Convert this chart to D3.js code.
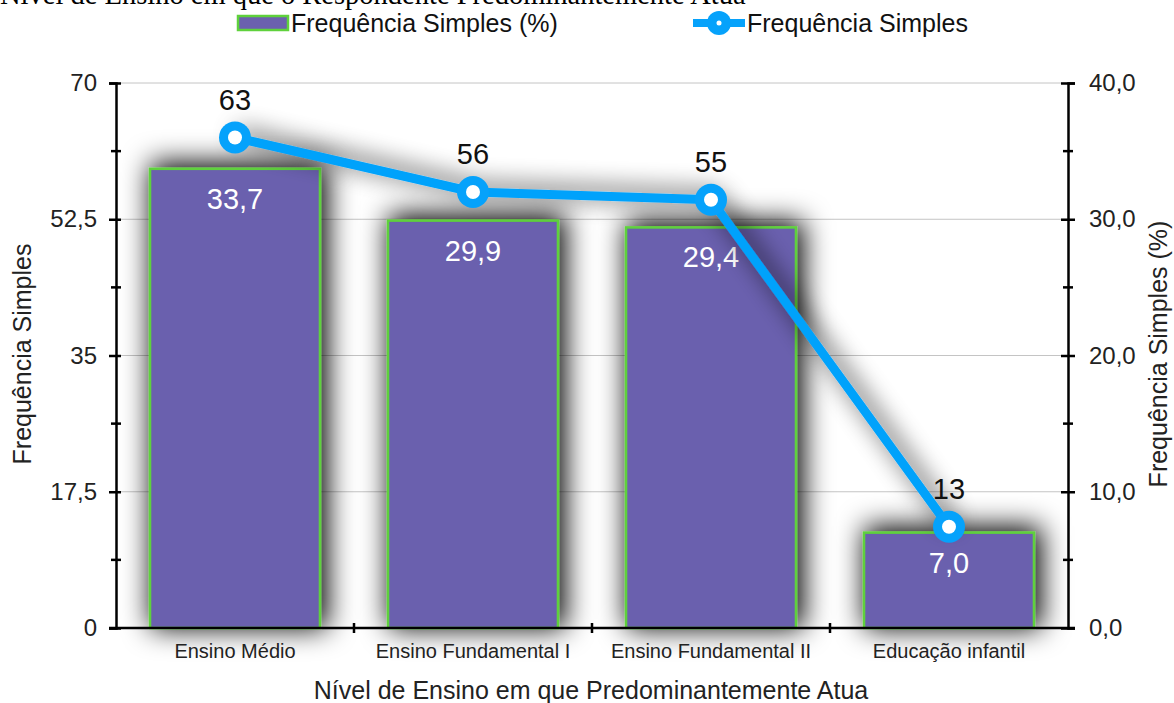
<!DOCTYPE html>
<html>
<head>
<meta charset="utf-8">
<script src="https://cdn.jsdelivr.net/npm/d3@7"></script>
<style>
  html, body { margin: 0; padding: 0; background: #fff; }
  svg { display: block; font-family: "Liberation Sans", Arial, sans-serif; }
</style>
</head>
<body>
<svg id="chart" width="1174" height="703"></svg>
<script>
// Teaching level categories and their frequencies
const categories = ["Ensino Médio", "Ensino Fundamental I", "Ensino Fundamental II", "Educação infantil"];
const percentValues = [33.7, 29.9, 29.4, 7.0];   // Frequência Simples (%) – bars, right axis
const countValues = [63, 56, 55, 13];            // Frequência Simples – line, left axis
const leftTicks = [0, 17.5, 35, 52.5, 70];
const rightTicks = [0, 10, 20, 30, 40];

const svg = d3.select("#chart");
const m = { left: 116, right: 1068, top: 83, bottom: 628 };

const x = d3.scaleBand().domain(categories).range([m.left, m.right])
  .paddingInner(0.286).paddingOuter(0.143);
const xStep = d3.scaleBand().domain(categories).range([m.left, m.right]).padding(0);
const yLeft = d3.scaleLinear().domain([0, 70]).range([m.bottom, m.top]);
const yRight = d3.scaleLinear().domain([0, 40]).range([m.bottom, m.top]);

const comma = v => String(v).replace(".", ",");
const fmt1 = v => v.toFixed(1).replace(".", ",");

const blue = "#06a2fb";

// Soft dark shadow: dilated, blurred alpha placed under the shape
const defs = svg.append("defs");
function shadowFilter(id, dilate, blur, dx, dy, opacity) {
  const f = defs.append("filter").attr("id", id)
    .attr("filterUnits", "userSpaceOnUse")
    .attr("x", 0).attr("y", 0).attr("width", 1174).attr("height", 703);
  f.append("feMorphology").attr("in", "SourceAlpha").attr("operator", "dilate")
    .attr("radius", dilate).attr("result", "d");
  f.append("feGaussianBlur").attr("in", "d").attr("stdDeviation", blur).attr("result", "b");
  f.append("feOffset").attr("in", "b").attr("dx", dx).attr("dy", dy).attr("result", "o");
  f.append("feComponentTransfer").attr("in", "o").attr("result", "s")
    .append("feFuncA").attr("type", "linear").attr("slope", opacity);
  const mg = f.append("feMerge");
  mg.append("feMergeNode").attr("in", "s");
  mg.append("feMergeNode").attr("in", "SourceGraphic");
}
shadowFilter("shadow", 2, 14, 4, -3, 1);
shadowFilter("lshadow", 1, 12, 3, -3, 0.7);

// Title (partly above the top edge)
svg.append("text").attr("x", 0).attr("y", 4)
  .style("font-family", "'Liberation Serif', 'Times New Roman', serif")
  .style("font-size", "28.5px").attr("fill", "#000")
  .text("Nível de Ensino em que o Respondente Predominantemente Atua");

// Gridlines
svg.append("g").selectAll("line").data(leftTicks.filter(d => d > 0)).join("line")
  .attr("x1", m.left).attr("x2", m.right)
  .attr("y1", d => yLeft(d)).attr("y2", d => yLeft(d))
  .attr("stroke", "#c4c4c4").attr("stroke-width", 1);

// Bars
svg.append("g").selectAll("rect").data(categories).join("rect")
  .attr("x", d => x(d)).attr("width", x.bandwidth())
  .attr("y", (d, i) => yRight(percentValues[i]))
  .attr("height", (d, i) => m.bottom - yRight(percentValues[i]))
  .attr("fill", "#6b60ae").attr("stroke", "#5fd13c").attr("stroke-width", 2.5)
  .attr("filter", "url(#shadow)");

// Bar labels
svg.append("g").selectAll("text").data(categories).join("text")
  .attr("x", d => x(d) + x.bandwidth() / 2)
  .attr("y", (d, i) => yRight(percentValues[i]) + 40)
  .attr("text-anchor", "middle").attr("fill", "#fff")
  .style("font-size", "29px")
  .text((d, i) => fmt1(percentValues[i]));

// Line series
const cx = d => x(d) + x.bandwidth() / 2;
const line = d3.line().x((d, i) => cx(categories[i])).y(d => yLeft(d));
svg.append("path").datum(countValues).attr("d", line)
  .attr("fill", "none").attr("stroke", blue).attr("stroke-width", 9)
  .attr("stroke-linejoin", "round").attr("filter", "url(#lshadow)");
const pts = svg.append("g").selectAll("g").data(countValues).join("g")
  .attr("transform", (d, i) => `translate(${cx(categories[i])},${yLeft(d)})`);
pts.append("circle").attr("r", 16).attr("fill", blue);
pts.append("circle").attr("r", 7).attr("fill", "#fff");
svg.append("g").selectAll("text").data(countValues).join("text")
  .attr("x", (d, i) => cx(categories[i]))
  .attr("y", d => yLeft(d) - 28)
  .attr("text-anchor", "middle").attr("fill", "#111")
  .style("font-size", "29px")
  .text(d => d);

// Axes
const axisStyle = g => {
  g.select(".domain").attr("stroke", "#000").attr("stroke-width", 2.5);
  g.selectAll(".tick line").attr("stroke", "#000").attr("stroke-width", 2.5);
};
const leftAxis = svg.append("g").attr("transform", `translate(${m.left},0)`)
  .call(d3.axisLeft(yLeft).tickValues(leftTicks).tickSize(7).tickPadding(12).tickFormat(comma))
  .call(axisStyle);
leftAxis.selectAll(".tick line").attr("x2", 5).attr("x1", -7);
leftAxis.selectAll(".tick text").style("font-size", "24px").attr("fill", "#222");
svg.append("g").selectAll("line").data(d3.range(8.75, 70, 17.5)).join("line")
  .attr("x1", m.left - 5).attr("x2", m.left + 5)
  .attr("y1", d => yLeft(d)).attr("y2", d => yLeft(d))
  .attr("stroke", "#000").attr("stroke-width", 2.5);

const rightAxis = svg.append("g").attr("transform", `translate(${m.right},0)`)
  .call(d3.axisRight(yRight).tickValues(rightTicks).tickSize(7).tickPadding(14).tickFormat(fmt1))
  .call(axisStyle);
rightAxis.selectAll(".tick line").attr("x1", -7).attr("x2", 7);
rightAxis.selectAll(".tick text").style("font-size", "24px").attr("fill", "#222");
svg.append("g").selectAll("line").data(d3.range(5, 40, 10)).join("line")
  .attr("x1", m.right - 5).attr("x2", m.right + 5)
  .attr("y1", d => yRight(d)).attr("y2", d => yRight(d))
  .attr("stroke", "#000").attr("stroke-width", 2.5);

// Bottom axis with ticks at category boundaries
svg.append("line").attr("x1", m.left - 7).attr("x2", m.right + 7)
  .attr("y1", m.bottom).attr("y2", m.bottom)
  .attr("stroke", "#000").attr("stroke-width", 2.5);
svg.append("g").selectAll("line").data(categories.slice(1)).join("line")
  .attr("x1", d => xStep(d)).attr("x2", d => xStep(d))
  .attr("y1", m.bottom - 5).attr("y2", m.bottom + 5)
  .attr("stroke", "#000").attr("stroke-width", 2.5);
svg.append("g").selectAll("text").data(categories).join("text")
  .attr("x", d => cx(d)).attr("y", 658)
  .attr("text-anchor", "middle").attr("fill", "#222")
  .style("font-size", "20px")
  .text(d => d);

// Axis titles
svg.append("text").attr("x", (m.left + m.right) / 2 - 1).attr("y", 699)
  .attr("text-anchor", "middle").attr("fill", "#222").style("font-size", "25px")
  .text("Nível de Ensino em que Predominantemente Atua");
svg.append("text").attr("transform", `translate(31,354) rotate(-90)`)
  .attr("text-anchor", "middle").attr("fill", "#222").style("font-size", "25px")
  .text("Frequência Simples");
svg.append("text").attr("transform", `translate(1167,354) rotate(-90)`)
  .attr("text-anchor", "middle").attr("fill", "#222").style("font-size", "25px")
  .text("Frequência Simples (%)");

// Legend
const lg = svg.append("g");
lg.append("rect").attr("x", 238).attr("y", 16).attr("width", 50).attr("height", 14)
  .attr("fill", "#6b60ae").attr("stroke", "#5fd13c").attr("stroke-width", 2.5);
lg.append("text").attr("x", 291).attr("y", 32).attr("fill", "#111").style("font-size", "25px")
  .text("Frequência Simples (%)");
lg.append("line").attr("x1", 693).attr("x2", 745).attr("y1", 23).attr("y2", 23)
  .attr("stroke", blue).attr("stroke-width", 8);
lg.append("circle").attr("cx", 719).attr("cy", 23).attr("r", 12).attr("fill", blue);
lg.append("circle").attr("cx", 719).attr("cy", 23).attr("r", 2.5).attr("fill", "#fff");
lg.append("text").attr("x", 747).attr("y", 32).attr("fill", "#111").style("font-size", "25px")
  .text("Frequência Simples");
</script>
</body>
</html>
